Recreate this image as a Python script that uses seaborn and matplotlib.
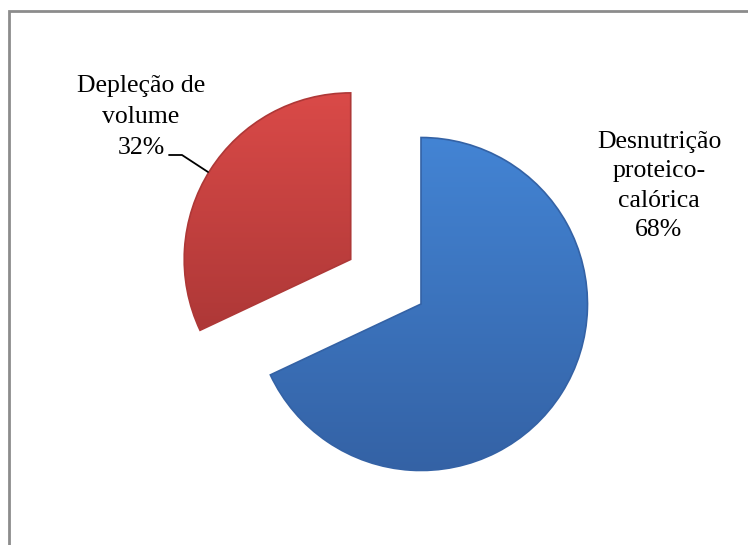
import numpy as np
import matplotlib
matplotlib.use("Agg")
import matplotlib.pyplot as plt
import seaborn as sns
from matplotlib.colors import LinearSegmentedColormap
from matplotlib.patches import Rectangle

# data
categories = ["Desnutrição\nproteico-\ncalórica", "Depleção de\nvolume"]
values = [68, 32]
pct_labels = ["68%", "32%"]
explode_frac = [0.0, 0.5]
top_colors = ["#4384D4", "#DA4A48"]
bottom_colors = ["#3462A5", "#AE3837"]

sns.set_theme(style="white")
plt.rcParams["font.family"] = ["Liberation Serif", "DejaVu Serif"]

W, H = 748, 545
fig = plt.figure(figsize=(W / 100, H / 100), dpi=100)
ax = fig.add_axes([0, 0, 1, 1])

cx, cy, R = 421, H - 304, 166.5
wedges, _ = ax.pie(values, explode=[e * R for e in explode_frac], startangle=90,
                   counterclock=False, center=(cx, cy), radius=R, frame=True,
                   colors=top_colors,
                   wedgeprops=dict(linewidth=0, edgecolor="none"))
ax.set_xlim(0, W)
ax.set_ylim(0, H)
ax.set_aspect("equal")
ax.axis("off")

# gradient fills clipped to wedges
for w, ct, cb in zip(wedges, top_colors, bottom_colors):
    cmap = LinearSegmentedColormap.from_list("g", [cb, ct])
    verts = w.get_path().vertices
    x0, x1 = verts[:, 0].min(), verts[:, 0].max()
    y0, y1 = verts[:, 1].min(), verts[:, 1].max()
    grad = np.linspace(0, 1, 256).reshape(-1, 1)
    im = ax.imshow(grad, extent=(x0, x1, y0, y1), origin="lower", cmap=cmap,
                   aspect="auto", zorder=2)
    im.set_clip_path(w)
    w.set_edgecolor(cb)
    w.set_linewidth(1.2)
    w.set_zorder(3)
    w.set_facecolor("none")

ax.set_xlim(0, W)
ax.set_ylim(0, H)

fs = 18.5
# label for blue slice
ax.text(659, H - 186, categories[0] + "\n" + pct_labels[0], ha="center", va="center",
        fontsize=fs, color="black", linespacing=1.43)
# label for red slice with leader
ax.text(141, H - 117, categories[1] + "\n" + pct_labels[1], ha="center", va="center",
        fontsize=fs, color="black", linespacing=1.55)
ax.plot([169, 182, 208], [H - 155, H - 155, H - 172], color="black", lw=1.3, zorder=4)

# outer chart border
ax.add_patch(Rectangle((9.5, -10), W + 20, H - 10.5 + 10, fill=False,
                       edgecolor="#8C8C8C", linewidth=2, zorder=5, clip_on=False))

fig.savefig("out.png", dpi=100)
